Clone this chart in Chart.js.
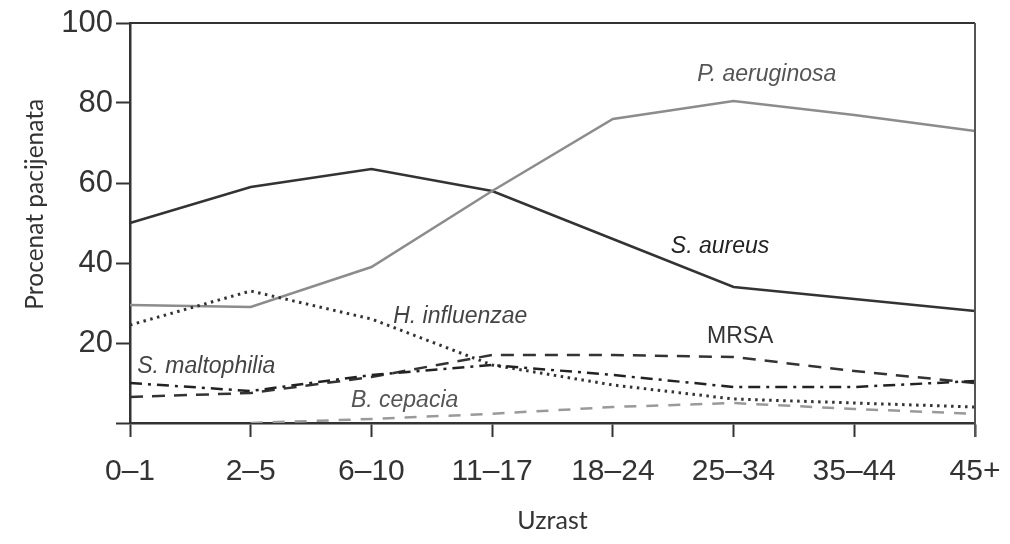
<!DOCTYPE html>
<html>
<head>
<meta charset="utf-8">
<script src="https://cdn.jsdelivr.net/npm/chart.js@4/dist/chart.umd.min.js"></script>
<style>
  html, body { margin: 0; padding: 0; background: #fff; }
  #wrap { position: relative; width: 1010px; height: 544px; }
</style>
</head>
<body>
<div id="wrap"><canvas id="myChart"></canvas></div>
<script>
// data
const ageGroups = ['0–1', '2–5', '6–10', '11–17', '18–24', '25–34', '35–44', '45+'];
const yTicks = [0, 20, 40, 60, 80, 100];

const sAureus      = [50, 59, 63.5, 58, 46, 34, 31, 28];
const pAeruginosa  = [29.5, 29, 39, 58, 76, 80.5, 77, 73];
const hInfluenzae  = [24.5, 33, 26, 14.5, 9.5, 6, 5, 4];
const mrsa         = [6.5, 7.5, 11.5, 17, 17, 16.5, 13, 10];
const sMaltophilia = [10, 8, 12, 14.5, 12, 9, 9, 10.5];
const bCepacia     = [null, 0, 1, 2.3, 4, 5, 3.5, 2.3];

// label text, anchored at [category index, value]
const seriesLabels = [
    { text: 'P. aeruginosa', at: [4.7, 87], italic: true, color: '#555' },
    { text: 'S. aureus', at: [4.48, 44], italic: true, color: '#222' },
    { text: 'H. influenzae', at: [2.18, 26.5], italic: true, color: '#444' },
    { text: 'MRSA', at: [4.78, 21.5], italic: false, color: '#333' },
    { text: 'S. maltophilia', at: [0.06, 14], italic: true, color: '#444' },
    { text: 'B. cepacia', at: [1.83, 5.7], italic: true, color: '#555' }
];

const FONT = "'Liberation Sans', Arial, Helvetica, sans-serif";
const TITLE_FONT = "Lato, 'Open Sans', sans-serif";

const labelPlugin = {
    id: 'labels',
    afterDatasetsDraw(chart) {
        const { ctx, scales: { x, y }, chartArea } = chart;
        ctx.save();
        // frame on top and right
        ctx.lineWidth = 2;
        ctx.strokeStyle = '#333';
        ctx.beginPath();
        ctx.moveTo(chartArea.left, chartArea.top);
        ctx.lineTo(chartArea.right, chartArea.top);
        ctx.stroke();
        ctx.strokeStyle = '#555';
        ctx.beginPath();
        ctx.moveTo(chartArea.right, chartArea.top);
        ctx.lineTo(chartArea.right, chartArea.bottom + 14);
        ctx.stroke();

        ctx.textAlign = 'left';
        ctx.textBaseline = 'middle';
        seriesLabels.forEach(l => {
            ctx.font = (l.italic ? 'italic ' : '') + '23px ' + FONT;
            ctx.fillStyle = l.color;
            ctx.fillText(l.text, x.getPixelForValue(l.at[0]), y.getPixelForValue(l.at[1]));
        });
        ctx.restore();
    }
};

const mk = (label, data, color, dash, width) => ({
    label: label,
    data: data,
    borderColor: color,
    backgroundColor: color,
    borderWidth: width || 2.5,
    borderDash: dash,
    pointRadius: 0,
    tension: 0,
    fill: false,
    spanGaps: false
});

const ctx = document.getElementById('myChart').getContext('2d');
const myChart = new Chart(ctx, {
    type: 'line',
    data: {
        labels: ageGroups,
        datasets: [
            mk('B. cepacia', bCepacia, '#9a9a9a', [12, 10]),
            mk('S. maltophilia', sMaltophilia, '#222', [12, 6, 3, 6]),
            mk('MRSA', mrsa, '#333', [13, 9]),
            mk('H. influenzae', hInfluenzae, '#333', [2.5, 4.5], 3),
            mk('P. aeruginosa', pAeruginosa, '#8c8c8c', []),
            mk('S. aureus', sAureus, '#333', [])
        ]
    },
    options: {
        responsive: true,
        maintainAspectRatio: false,
        animation: false,
        layout: { padding: { left: 0, right: 35, top: 23, bottom: 0 } },
        plugins: {
            legend: { display: false },
            tooltip: { enabled: false }
        },
        scales: {
            x: {
                type: 'category',
                offset: false,
                afterFit: s => { s.height = 121; s.paddingLeft = 0; s.paddingRight = 0; },
                grid: { drawOnChartArea: false, tickLength: 14, tickWidth: 2, tickColor: '#333' },
                border: { color: '#333', width: 2.5 },
                ticks: {
                    padding: 17,
                    maxRotation: 0,
                    autoSkip: false,
                    color: '#333',
                    font: { family: FONT, size: 30 }
                },
                title: {
                    display: true,
                    text: 'Uzrast',
                    color: '#333',
                    padding: { top: 0, bottom: 8 },
                    font: { family: TITLE_FONT, size: 25 }
                }
            },
            y: {
                min: 0,
                max: 100,
                afterFit: s => { s.width = 130; },
                afterBuildTicks: s => { s.ticks = yTicks.map(v => ({ value: v })); },
                grid: { drawOnChartArea: false, tickLength: 14, tickWidth: 2, tickColor: '#333' },
                border: { color: '#333', width: 2.5 },
                ticks: {
                    padding: 3,
                    color: '#333',
                    font: { family: FONT, size: 31 },
                    callback: v => (v === 0 ? '' : v)
                },
                title: {
                    display: true,
                    text: '      Procenat pacijenata',
                    color: '#333',
                    padding: { top: 20, bottom: 0 },
                    font: { family: TITLE_FONT, size: 24.5 }
                }
            }
        }
    },
    plugins: [labelPlugin]
});
</script>
</body>
</html>
